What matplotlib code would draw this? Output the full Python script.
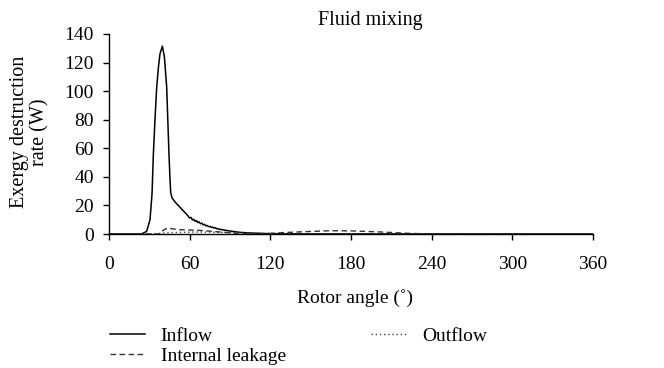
import matplotlib
matplotlib.use("Agg")
import matplotlib.pyplot as plt

# ---- data ----
inflow_angle = [0, 24, 28, 30.5, 32, 33, 34.3, 35.5, 36.8, 37.9, 39.7, 41.2, 42.9,
                44.6, 45.4, 45.9, 46.8, 47.8, 50, 54, 58, 60, 61, 62, 63, 64, 65, 66, 67,
                68, 69, 70, 71, 72, 73, 74, 75, 76, 77, 78, 79, 80, 83, 86, 92, 98,
                105, 117, 130, 150, 360]
inflow_val = [0, 0, 1.8, 10, 28, 56, 82, 103, 117, 126, 131.5, 124, 103,
              56, 38, 29, 25.5, 24, 21.5, 17.5, 13.5, 11.2, 11.6, 9.9, 10.3, 8.9, 9.4, 8.0, 8.5,
              7.2, 7.6, 6.4, 6.8, 5.7, 6.0, 5.1, 5.4, 4.6, 4.9, 4.1, 4.4, 3.8, 3.2, 2.7,
              1.8, 1.1, 0.7, 0.3, 0.12, 0.04, 0]

leak_angle = [0, 37, 39.2, 41.5, 44.1, 47, 52.8, 60, 67.7, 77.4, 85, 92, 100, 115,
              130, 150, 165, 180, 200, 220, 235, 360]
leak_val = [0, 0, 1.8, 3.3, 4.2, 3.6, 3.0, 2.8, 2.5, 1.8, 1.2, 0.7, 0.3, 0.1,
            1.0, 1.8, 2.3, 2.2, 1.5, 0.6, 0.1, 0]

out_angle = [0, 34, 40, 46, 55, 65, 80, 95, 110, 125, 145, 360]
out_val = [0, 0, 0.6, 1.0, 1.2, 1.4, 1.2, 0.9, 0.6, 0.3, 0.05, 0]

x_ticks = [0, 60, 120, 180, 240, 300, 360]
y_ticks = [0, 20, 40, 60, 80, 100, 120, 140]

plt.rcParams['font.family'] = ['Liberation Serif', 'DejaVu Serif']
plt.rcParams['font.size'] = 14

W, H = 664, 368
fig = plt.figure(figsize=(W / 100, H / 100), dpi=100)
ax = fig.add_axes([109 / W, 1 - 234 / H, 484 / W, 200 / H])

ax.plot(inflow_angle, inflow_val, color='black', lw=1.1, label='Inflow')
ax.plot(leak_angle, leak_val, color='#333333', lw=1.0, ls=(0, (4, 2.5)), label='Internal leakage')
ax.plot(out_angle, out_val, color='#444444', lw=1.0, ls=(0, (1, 2)), label='Outflow')

ax.set_xlim(0, 360)
ax.set_ylim(0, 140)
ax.set_xticks(x_ticks)
ax.set_yticks(y_ticks)
for s in ['top', 'right']:
    ax.spines[s].set_visible(False)
for s in ['left', 'bottom']:
    ax.spines[s].set_linewidth(1.0)
ax.tick_params(direction='out', length=4, width=1.0)
ax.tick_params(axis='x', pad=12)
ax.tick_params(axis='y', pad=7)

fig.text(370 / W, 1 - 21 / H, 'Fluid mixing', ha='center', va='center', fontsize=14.5)
fig.text(355 / W, 1 - 298 / H, 'Rotor angle (˚)', ha='center', va='center')
fig.text(30 / W, 1 - 132 / H, 'Exergy destruction\nrate (W)', ha='center', va='center',
         rotation=90, multialignment='center', linespacing=1.1, fontsize=14.5)

handles, labels = ax.get_legend_handles_labels()
leg = fig.legend(handles, labels, ncol=2, loc='upper left',
                 bbox_to_anchor=(110 / W, 1 - 327 / H), frameon=False,
                 handlelength=1.8, handletextpad=0.8, columnspacing=4.4,
                 labelspacing=0.12, borderpad=0, borderaxespad=0)

fig.savefig('out.png', dpi=100)
